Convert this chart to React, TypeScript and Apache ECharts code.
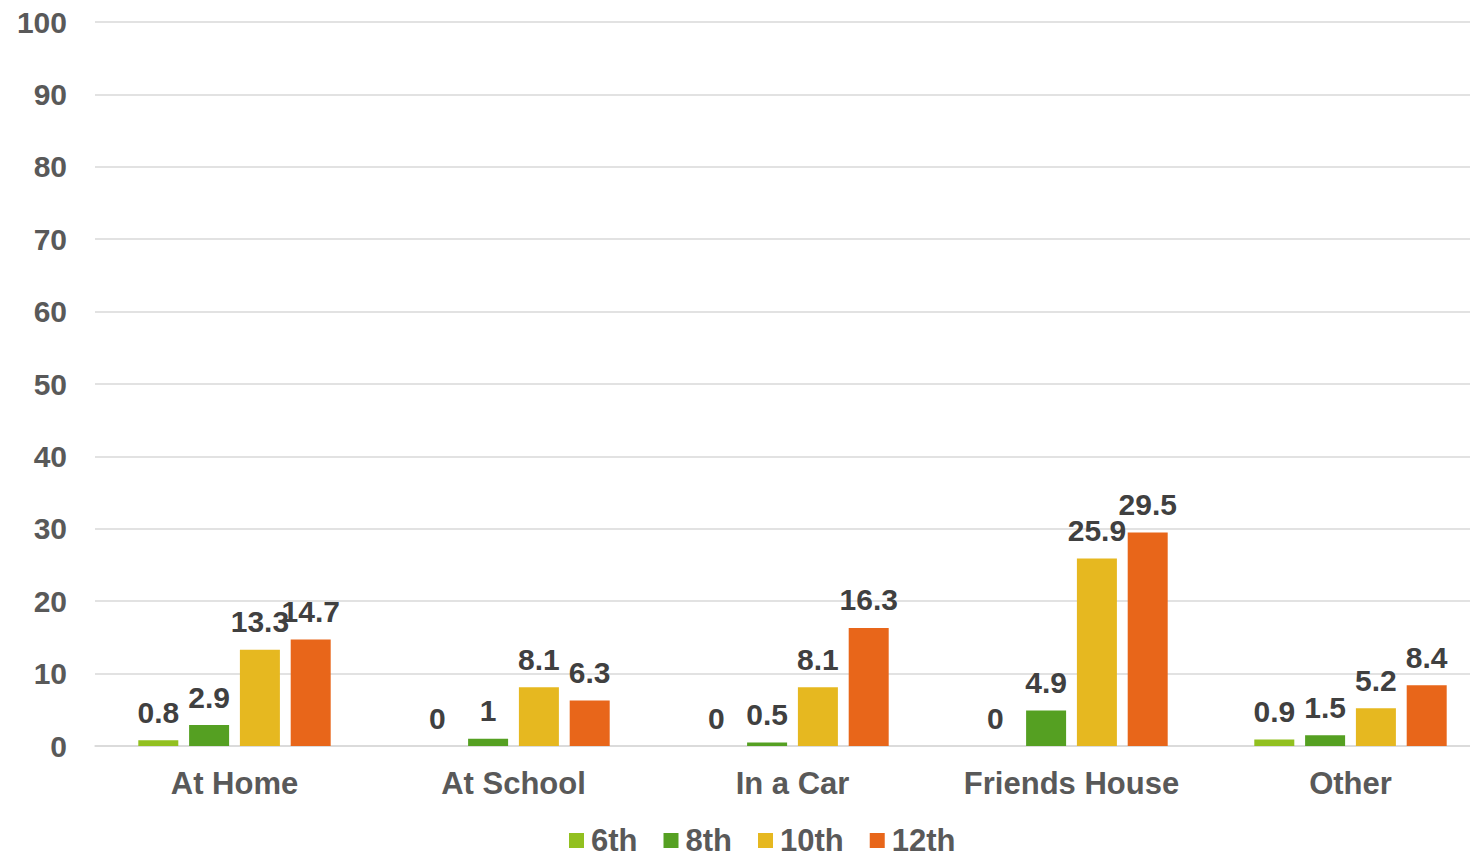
import React, { useEffect, useRef } from "react";
import * as echarts from "echarts";

const categories = ["At Home", "At School", "In a Car", "Friends House", "Other"];
const grade6 = [0.8, 0, 0, 0, 0.9];
const grade8 = [2.9, 1, 0.5, 4.9, 1.5];
const grade10 = [13.3, 8.1, 8.1, 25.9, 5.2];
const grade12 = [14.7, 6.3, 16.3, 29.5, 8.4];
const seriesNames = ["6th", "8th", "10th", "12th"];
const seriesColors = ["#92C020", "#55A022", "#E6B820", "#E8661A"];

const FONT = "'Liberation Sans', Arial, sans-serif";

export default function App() {
  const ref = useRef<HTMLDivElement>(null);
  useEffect(() => {
    if (!ref.current) return;
    const chart = echarts.init(ref.current, null, { renderer: "svg" });
    const data = [grade6, grade8, grade10, grade12];
    chart.setOption({
      animation: false,
      textStyle: { fontFamily: FONT },
      grid: { left: 95, width: 1395, top: 22, bottom: 113, containLabel: false, outerBoundsMode: "none" },
      legend: {
        bottom: 3,
        left: 569,
        padding: 0,
        itemWidth: 15,
        itemHeight: 15,
        itemGap: 26,
        icon: "rect",
        textStyle: { fontSize: 31, lineHeight: 28, fontWeight: "bold", color: "#595959", fontFamily: FONT, padding: [0, 0, 0, 2] },
        data: seriesNames,
      },
      xAxis: {
        type: "category",
        data: categories,
        axisLine: { lineStyle: { color: "#D9D9D9", width: 1.5 } },
        axisTick: { show: false },
        axisLabel: { interval: 0, fontSize: 31, fontWeight: "bold", color: "#595959", margin: 22, fontFamily: FONT },
      },
      yAxis: {
        type: "value",
        min: 0,
        max: 100,
        interval: 10,
        axisLine: { show: false },
        axisTick: { show: false },
        splitLine: { lineStyle: { color: "#D9D9D9", width: 1.5 } },
        axisLabel: { fontSize: 30, fontWeight: "bold", color: "#595959", margin: 28, fontFamily: FONT },
      },
      series: seriesNames.map((name, i) => ({
        name,
        type: "bar",
        data: data[i],
        barWidth: 40,
        barGap: "27%",
        barCategoryGap: "30%",
        itemStyle: { color: seriesColors[i] },
        label: {
          show: true,
          position: "top",
          distance: 13,
          fontSize: 30,
          fontWeight: "bold",
          color: "#404040",
          fontFamily: FONT,
        },
      })),
    });
    return () => chart.dispose();
  }, []);
  return (
    <div
      ref={ref}
      style={{ position: "absolute", left: 0, top: 0, width: 1470, height: 859 }}
    />
  );
}
